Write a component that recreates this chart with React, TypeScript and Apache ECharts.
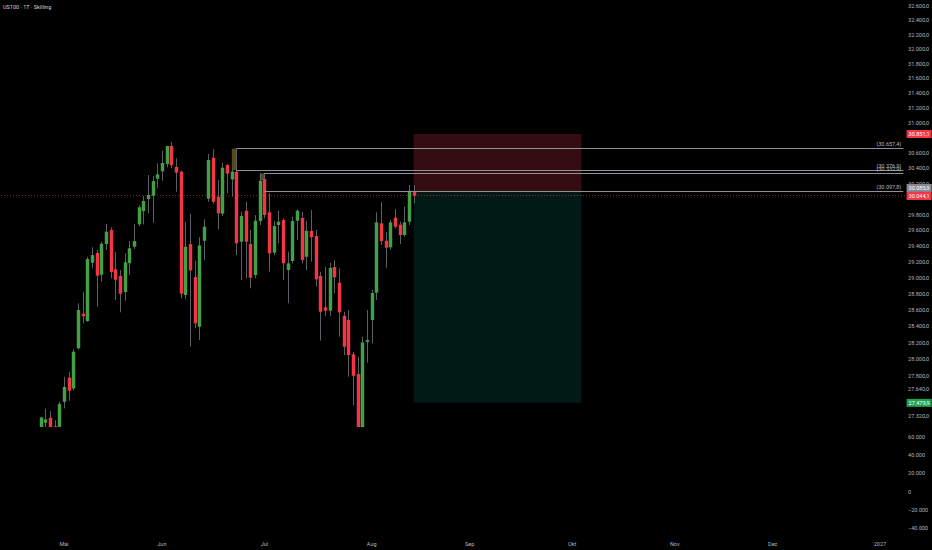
import React, { useEffect, useRef } from "react";
import * as echarts from "echarts";

const TITLE = "US100 · 1T · Skilling";

// Daily candles (24 Apr – 14 Aug 2026)
const OPEN = [27190, 27246, 27304, 27205, 27190, 27493, 27779, 27652, 28133, 28555, 28465, 29188, 29311, 29038, 29424, 29602, 29106, 29022, 28823, 29181, 29390, 29675, 29845, 30000, 30043, 30263, 30360, 30456, 30692, 30416, 30355, 28786, 29424, 29009, 28395, 29466, 30004, 30538, 30030, 29811, 30443, 30255, 30355, 29454, 29849, 29424, 29034, 29717, 30259, 29829, 29315, 29666, 29730, 29097, 29210, 29721, 29756, 29264, 29590, 29526, 29022, 28633, 28592, 29134, 28938, 28530, 28477, 28060, 27823, 27185, 28209, 28477, 28814, 29688, 29466, 29383, 29760, 29670, 29539, 29708, 30090];
const CLOSE = [27309, 27286, 27195, 27185, 27466, 27668, 27624, 28091, 28600, 28523, 29235, 29285, 29026, 29428, 29581, 29072, 28976, 28801, 29194, 29370, 29462, 29893, 29974, 30052, 30233, 30320, 30469, 30692, 30439, 30342, 28802, 29390, 29093, 28437, 29407, 29645, 30508, 29965, 29816, 30407, 30330, 30355, 29433, 29781, 29454, 29001, 29721, 30237, 29794, 29307, 29653, 29708, 29181, 29181, 29717, 29849, 29222, 29593, 29510, 28981, 28579, 28592, 29122, 29006, 28572, 28152, 28051, 27802, 27180, 28205, 28233, 28810, 29700, 29462, 29378, 29700, 29645, 29539, 29700, 30107, 30044.1];
const LOW = [27150, 27190, 27170, 27120, 27170, 27415, 27505, 27628, 28120, 28437, 28456, 29118, 28640, 28951, 29349, 28993, 28724, 28572, 28715, 29034, 29361, 29653, 29675, 29816, 29695, 30138, 30237, 30412, 30400, 30094, 28745, 28740, 28153, 28376, 28233, 29222, 29965, 29940, 29611, 29781, 30073, 30030, 29285, 28972, 28993, 28869, 28993, 29666, 29752, 29076, 29285, 29433, 28972, 28683, 29181, 29475, 29181, 29097, 29201, 28889, 28227, 28526, 28526, 28806, 28273, 28051, 27791, 27454, 27120, 27110, 27959, 28193, 28724, 29411, 29126, 29349, 29624, 29424, 29517, 29666, 29947];
const HIGH = [27315, 27410, 27383, 27277, 27493, 27790, 27847, 28120, 28683, 28826, 29264, 29383, 29349, 29454, 29679, 29637, 29323, 29097, 29307, 29462, 29679, 29919, 30039, 30311, 30298, 30464, 30630, 30696, 30749, 30530, 30368, 29704, 29807, 29216, 29510, 29739, 30587, 30652, 30246, 30472, 30450, 30386, 30657.4, 29836, 29965, 29602, 29794, 30333, 30333, 30075, 29717, 29849, 29752, 29327, 29772, 29867, 29836, 29717, 29858, 29602, 29076, 29138, 29188, 29222, 29118, 28579, 28600, 28091, 28031, 28273, 28600, 28848, 29829, 29957, 29573, 29730, 29870, 29708, 29901, 30181, 30181];

const PRICE_TICKS = [32600, 32400, 32200, 32000, 31800, 31600, 31400, 31200, 31000, 30600, 30400, 30200, 29800, 29600, 29400, 29200, 29000, 28800, 28600, 28400, 28200, 28000, 27800, 27640, 27320];
const LOWER_TICKS = [60000, 40000, 20000, 0, -20000, -40000];
const MONTHS = ["Jan", "Feb", "Mär", "Apr", "Mai", "Jun", "Jul", "Aug", "Sep", "Okt", "Nov", "Dez"];

// horizontal ray levels: candle index where they start
const LEVEL_VALUES = [30657.4, 30376.9, 30332.9, 30097.8];
const LEVEL_FROM = [42, 42, 48, 48];
// highlighted wick boxes
const HL_FROM = [41, 47];
const HL_TO = [42, 48];
const HL_TOP = [30657.4, 30332.9];
const HL_BOTTOM = [30376.9, 30246];
// short position tool
const POS_START = 80;
const POS_END = 116;
const STOP = 30851.1;
const ENTRY = 30085.9;
const TARGET = 27479.9;
const LAST_PRICE = 30044.1;

const FIRST_DAY = "2026-04-14";
const LEAD = 8; // empty sessions before first candle
const TOTAL = 194;

const GREEN = "#43a047";
const RED = "#f23645";
const WICK = "#5d6068";
const TXT = "#b2b5be";
const FS = 5.5;

function buildDates(): string[] {
  const out: string[] = [];
  const d = new Date(FIRST_DAY + "T00:00:00Z");
  while (out.length < TOTAL) {
    const wd = d.getUTCDay();
    if (wd !== 0 && wd !== 6) out.push(d.toISOString().slice(0, 10));
    d.setUTCDate(d.getUTCDate() + 1);
  }
  return out;
}

function groupThousands(s: string): string {
  return s.replace(/\B(?=(\d{3})+(?!\d))/g, ".");
}
function fmtPrice(v: number): string {
  const fixed = Math.abs(v).toFixed(1);
  const [i, f] = fixed.split(".");
  return (v < 0 ? "−" : "") + groupThousands(i) + "," + f;
}
function fmtVol(v: number): string {
  const i = Math.round(Math.abs(v)).toString();
  return (v < 0 ? "−" : "") + groupThousands(i);
}

export default function App() {
  const ref = useRef<HTMLDivElement>(null);
  useEffect(() => {
    if (!ref.current) return;
    const chart = echarts.init(ref.current, undefined, { renderer: "svg" });
    const dates = buildDates();
    const monthStart = new Set<number>();
    for (let i = 1; i < dates.length; i++) {
      if (dates[i].slice(5, 7) !== dates[i - 1].slice(5, 7)) monthStart.add(i);
    }
    const candles = CLOSE.map((c, k) => [LEAD + k, OPEN[k], c, LOW[k], HIGH[k]]);

    const axisLabelBox = (bg: string) => ({
      show: true,
      position: "end",
      distance: 1,
      color: "#ffffff",
      backgroundColor: bg,
      padding: [1.2, 2, 0.8, 2],
      fontSize: FS,
      fontFamily: "Roboto",
    });
    const hiddenLine = { color: "rgba(0,0,0,0)", width: 0 };

    const levelLines = LEVEL_VALUES.map((v, i) => [
      {
        coord: [LEAD + LEVEL_FROM[i], v],
        lineStyle: { color: "#8f929b", width: 1, type: "solid" },
        label: {
          show: true,
          position: "insideEndTop",
          formatter: "(" + fmtPrice(v) + ")",
          color: TXT,
          fontSize: FS,
          distance: [2, 1.5],
        },
      },
      { coord: [TOTAL - 1, v] },
    ]);

    const option: any = {
      animation: false,
      backgroundColor: "#000000",
      textStyle: { fontFamily: "Roboto" },
      title: {
        text: TITLE,
        left: 3,
        top: 4,
        padding: 0,
        textStyle: { color: "#d1d4dc", fontSize: FS, fontWeight: "normal" },
      },
      grid: [
        { left: 1, right: 26.4, top: 0, height: 427, containLabel: false, outerBoundsMode: "none" },
        { left: 1, right: 26.4, top: 428, height: 108, containLabel: false, outerBoundsMode: "none" },
      ],
      xAxis: [
        {
          type: "category",
          gridIndex: 0,
          data: dates,
          boundaryGap: true,
          show: false,
        },
        {
          type: "category",
          gridIndex: 1,
          data: dates,
          boundaryGap: true,
          axisLine: { show: false },
          axisTick: { show: false },
          splitLine: { show: false },
          axisLabel: {
            color: TXT,
            fontSize: FS,
            margin: 4.5,
            hideOverlap: false,
            interval: (i: number) => monthStart.has(i),
            formatter: (v: string) => {
              const m = parseInt(v.slice(5, 7), 10);
              return m === 1 ? v.slice(0, 4) : MONTHS[m - 1];
            },
          },
        },
      ],
      yAxis: [
        {
          type: "log",
          logBase: 10,
          gridIndex: 0,
          position: "right",
          min: 27196,
          max: 32683,
          axisLine: { show: false },
          axisTick: { show: false },
          splitLine: { show: false },
          axisLabel: {
            color: TXT,
            fontSize: FS,
            margin: 2.5,
            align: "left",
            customValues: PRICE_TICKS,
            formatter: (v: number) => fmtPrice(v),
            hideOverlap: false,
          },
        },
        {
          type: "value",
          gridIndex: 1,
          position: "right",
          min: -48800,
          max: 69900,
          axisLine: { show: false },
          axisTick: { show: false },
          splitLine: { show: false },
          axisLabel: {
            color: TXT,
            fontSize: FS,
            margin: 2.5,
            align: "left",
            customValues: LOWER_TICKS,
            formatter: (v: number) => fmtVol(v),
            hideOverlap: false,
          },
        },
      ],
      series: [
        {
          type: "custom",
          name: "US100",
          xAxisIndex: 0,
          yAxisIndex: 0,
          clip: true,
          silent: true,
          data: candles,
          encode: { x: 0, y: [1, 2, 3, 4] },
          renderItem: (params: any, api: any) => {
            const x = api.value(0);
            const o = api.value(1);
            const c = api.value(2);
            const l = api.value(3);
            const h = api.value(4);
            const po = api.coord([x, o]);
            const pc = api.coord([x, c]);
            const pl = api.coord([x, l]);
            const ph = api.coord([x, h]);
            const band = api.size([1, 0], [x, c])[0];
            const bw = band * 0.74;
            const cx = Math.round(po[0]) + 0.5;
            const top = Math.min(po[1], pc[1]);
            const hgt = Math.max(1, Math.abs(po[1] - pc[1]));
            return {
              type: "group",
              children: [
                {
                  type: "line",
                  shape: { x1: cx, y1: ph[1], x2: cx, y2: pl[1] },
                  style: { stroke: WICK, lineWidth: 1 },
                },
                {
                  type: "rect",
                  shape: { x: cx - bw / 2, y: top, width: bw, height: hgt },
                  style: { fill: c >= o ? GREEN : RED },
                },
              ],
            };
          },
          markArea: {
            silent: true,
            label: { show: false },
            data: [
              [
                { coord: [LEAD + POS_START, STOP], itemStyle: { color: "rgba(242,54,69,0.22)" } },
                { coord: [LEAD + POS_END, ENTRY] },
              ],
              [
                { coord: [LEAD + POS_START, ENTRY], itemStyle: { color: "rgba(8,153,129,0.17)" } },
                { coord: [LEAD + POS_END, TARGET] },
              ],
              ...HL_FROM.map((f, i) => [
                {
                  coord: [LEAD + f, HL_TOP[i]],
                  itemStyle: { color: "rgba(215,190,60,0.4)" },
                },
                { coord: [LEAD + HL_TO[i], HL_BOTTOM[i]] },
              ]),
            ],
          },
          markLine: {
            silent: true,
            symbol: ["none", "none"],
            animation: false,
            data: [
              ...levelLines,
              {
                yAxis: LAST_PRICE,
                lineStyle: { color: "rgba(242,54,69,0.55)", width: 1, type: [1, 2] },
                label: { ...axisLabelBox(RED), formatter: fmtPrice(LAST_PRICE), verticalAlign: "top", offset: [0, -3.6] },
              },
              {
                yAxis: STOP,
                lineStyle: hiddenLine,
                label: { ...axisLabelBox(RED), formatter: fmtPrice(STOP) },
              },
              {
                yAxis: ENTRY,
                lineStyle: hiddenLine,
                label: { ...axisLabelBox("#868993"), formatter: fmtPrice(ENTRY), verticalAlign: "bottom", offset: [0, -0.4] },
              },
              {
                yAxis: TARGET,
                lineStyle: hiddenLine,
                label: { ...axisLabelBox("#22a050"), formatter: fmtPrice(TARGET) },
              },
            ],
          },
        },
      ],
    };
    chart.setOption(option);
    return () => chart.dispose();
  }, []);
  return (
    <div
      ref={ref}
      style={{ position: "fixed", left: 0, top: 0, width: 932, height: 550, background: "#000" }}
    />
  );
}
